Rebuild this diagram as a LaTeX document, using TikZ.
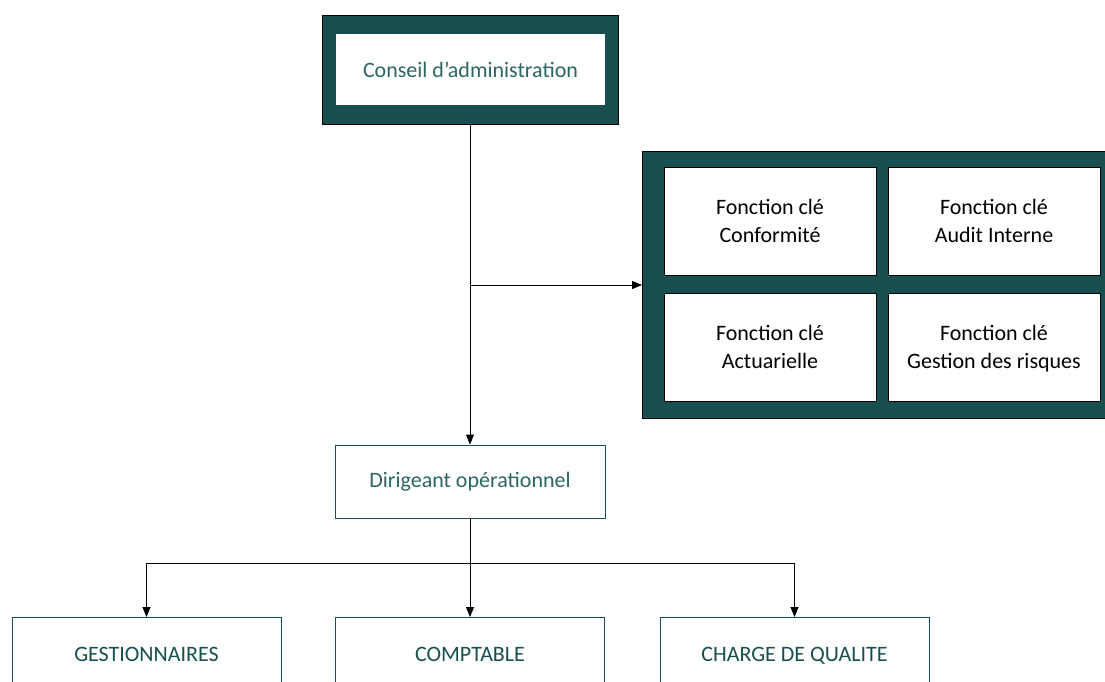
\documentclass[tikz,border=0pt]{standalone}
\usepackage{fontspec}
\setmainfont{Carlito}
\usetikzlibrary{arrows.meta}
\definecolor{teal1}{HTML}{17504F}
\definecolor{tealtxt}{HTML}{2C6664}
\newcommand{\topstrut}{\rule{0pt}{23.6pt}}
\tikzset{
  conn/.style={draw=black, line width=0.9pt, -{Triangle[length=10pt,width=8pt]}},
  plainconn/.style={draw=black, line width=0.9pt},
  whitebox/.style={draw=black, line width=0.8pt, fill=white, minimum width=212pt, minimum height=108pt, align=center, font=\fontsize{22}{28}\selectfont, text=black, inner sep=0pt},
  lightbox/.style={draw=teal1, line width=0.9pt, fill=white, align=center, font=\fontsize{22}{28}\selectfont, text=tealtxt, inner sep=0pt},
  lowbox/.style={draw=teal1, line width=0.9pt, fill=white, minimum width=269pt, minimum height=90pt, inner sep=0pt},
  lowtxt/.style={font=\fontsize{22}{28}\selectfont, text=teal1, inner sep=0pt, text height=15pt, text depth=5pt},
}
\begin{document}
\begin{tikzpicture}[x=1pt,y=1pt]
\useasboundingbox (0,0) rectangle (1105,-682);
\clip (0,0) rectangle (1105,-682);
% top board
\node[draw=black, line width=0.8pt, fill=teal1, minimum width=296pt, minimum height=109pt, inner sep=0pt] (ca) at (470,-69.5) {};
\node[lightbox, draw=none, minimum width=269pt, minimum height=71pt] (catext) at (470.5,-69.5) {Conseil d’administration};
% key functions group
\node[draw=black, line width=0.8pt, fill=teal1, minimum width=475pt, minimum height=267pt, inner sep=0pt, anchor=north west] (grp) at (642,-151) {};
\node[whitebox] (f1) at (770,-221) {\topstrut Fonction clé\\Conformité\strut};
\node[whitebox] (f2) at (994,-221) {\topstrut Fonction clé\\Audit Interne\strut};
\node[whitebox] (f3) at (770,-347) {\topstrut Fonction clé\\Actuarielle\strut};
\node[whitebox] (f4) at (994,-347) {\topstrut Fonction clé\\Gestion des risques\strut};
% director
\node[lightbox, minimum width=270pt, minimum height=73pt] (dir) at (470,-481.5) {Dirigeant opérationnel};
% bottom boxes
\node[lowbox, anchor=north] (g) at (146.5,-617) {};
\node[lowbox, anchor=north] (c) at (470,-617) {};
\node[lowbox, anchor=north] (q) at (794.5,-617) {};
\node[lowtxt] (gt) at (146.5,-656) {GESTIONNAIRES};
\node[lowtxt] (ct) at (470,-656) {COMPTABLE};
\node[lowtxt] (qt) at (794.5,-656) {CHARGE DE QUALITE};
% connectors
\coordinate (j1) at (470,-285);
\coordinate (j2) at (470,-563);
\draw[conn] (ca.south) -- (dir.north);
\draw[conn] (j1) -- (grp.west |- j1);
\draw[plainconn] (dir.south) -- (j2);
\draw[conn] (j2) -- (c.north);
\draw[conn] (j2) -| (g.north);
\draw[conn] (j2) -| (q.north);
\end{tikzpicture}
\end{document}
